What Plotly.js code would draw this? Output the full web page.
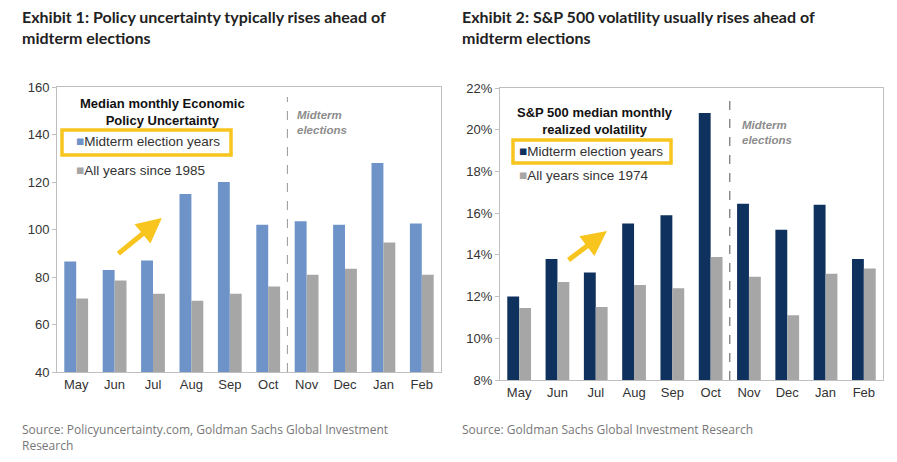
<!DOCTYPE html>
<html><head><meta charset="utf-8">
<script src="https://cdn.plot.ly/plotly-3.0.1.min.js"></script>
<style>body{margin:0;background:#fff}#c{width:897px;height:462px}</style>
</head><body><div id="c"></div>
<script>
const months = ["May","Jun","Jul","Aug","Sep","Oct","Nov","Dec","Jan","Feb"];
const epuMidterm = [86.5, 83, 87, 115, 120, 102, 103.5, 102, 128, 102.5];
const epuAll = [71, 78.5, 73, 70, 73, 76, 81, 83.5, 94.5, 81];
const volMidterm = [12.0, 13.8, 13.15, 15.5, 15.9, 20.8, 16.45, 15.2, 16.4, 13.8];
const volAll = [11.45, 12.7, 11.5, 12.55, 12.4, 13.9, 12.95, 11.1, 13.1, 13.35];

const W = 897, H = 462;
const px = x => x / W, py = y => 1 - y / H;
const idx = months.map((_, i) => i);
const BLUE = "#6d93c9", GREY = "#a6a6a6", NAVY = "#0f315e", GOLD = "#f7c51e";
const tf = { family: "Liberation Sans, Arial", size: 13, color: "#333" };

const data = [
  { type: "bar", x: idx, y: epuMidterm, marker: { color: BLUE }, xaxis: "x", yaxis: "y" },
  { type: "bar", x: idx, y: epuAll, marker: { color: GREY }, xaxis: "x", yaxis: "y" },
  { type: "bar", x: idx, y: volMidterm, marker: { color: NAVY }, xaxis: "x2", yaxis: "y2" },
  { type: "bar", x: idx, y: volAll, marker: { color: GREY }, xaxis: "x2", yaxis: "y2" },
];

function xax(dom, anchor) {
  return { domain: dom, anchor, range: [-0.5, 9.5], tickvals: idx, ticktext: months,
    showline: true, mirror: true, linecolor: "#bfbfbf", tickfont: tf, ticks: "",
    showgrid: false, zeroline: false, fixedrange: true };
}
function yax(dom, anchor, range, dtick, suffix) {
  return { domain: dom, anchor, range, dtick, ticksuffix: suffix, tickfont: tf,
    showline: true, mirror: true, linecolor: "#bfbfbf", ticks: "outside", ticklen: 4,
    tickcolor: "#bfbfbf", showgrid: false, zeroline: false };
}

const titleFont = { family: "Lato, Open Sans", size: 16, color: "#222" };
const srcFont = { family: "Open Sans", size: 12, color: "#777" };
const headFont = { family: "Liberation Sans, Arial", size: 13, color: "#111" };
const legFont = { family: "Liberation Sans, Arial", size: 13.5, color: "#333" };
const midFont = { family: "Liberation Sans, Arial", size: 11.5, color: "#8c8c8c" };

function ann(x, y, text, font, xanchor = "left") {
  return { xref: "paper", yref: "paper", x: px(x), y: py(y), text, font, xanchor,
    yanchor: "middle", showarrow: false, align: xanchor === "center" ? "center" : "left" };
}

const layout = {
  width: W, height: H, margin: { l: 0, r: 0, t: 0, b: 0 },
  paper_bgcolor: "#fff", plot_bgcolor: "#fff", showlegend: false,
  barmode: "group", bargap: 0.38, bargroupgap: 0,
  xaxis: xax([px(57), px(441)], "y"),
  yaxis: yax([py(372), py(87)], "x", [40, 160], 20, ""),
  xaxis2: xax([px(500), px(883)], "y2"),
  yaxis2: yax([py(380), py(88)], "x2", [8, 22], 2, "%"),
  shapes: [
    { type: "line", xref: "x", yref: "paper", x0: 5.5, x1: 5.5, y0: py(372), y1: py(97),
      line: { color: "#999", width: 1, dash: "dash" } },
    { type: "line", xref: "x2", yref: "paper", x0: 5.5, x1: 5.5, y0: py(380), y1: py(97),
      line: { color: "#555", width: 1, dash: "dash" } },
    { type: "rect", xref: "paper", yref: "paper", x0: px(62), x1: px(231), y0: py(155), y1: py(130),
      line: { color: GOLD, width: 3.5 } },
    { type: "rect", xref: "paper", yref: "paper", x0: px(513), x1: px(671), y0: py(163), y1: py(140),
      line: { color: GOLD, width: 3.5 } },
  ],
  annotations: [
    { xref: "paper", yref: "paper", x: px(20), y: py(5), xanchor: "left", yanchor: "top", align: "left",
      showarrow: false, font: titleFont,
      text: "<b>Exhibit 1: Policy uncertainty typically rises ahead of<br>midterm elections</b>" },
    { xref: "paper", yref: "paper", x: px(460), y: py(5), xanchor: "left", yanchor: "top", align: "left",
      showarrow: false, font: titleFont,
      text: "<b>Exhibit 2: S&P 500 volatility usually rises ahead of<br>midterm elections</b>" },
    { xref: "paper", yref: "paper", x: px(20), y: py(419), xanchor: "left", yanchor: "top", align: "left",
      showarrow: false, font: srcFont,
      text: "Source: Policyuncertainty.com, Goldman Sachs Global Investment<br>Research" },
    { xref: "paper", yref: "paper", x: px(460), y: py(419), xanchor: "left", yanchor: "top", align: "left",
      showarrow: false, font: srcFont, text: "Source: Goldman Sachs Global Investment Research" },
    ann(162, 112, "<b>Median monthly Economic<br>Policy Uncertainty</b>", headFont, "center"),
    ann(74, 142, `<span style="color:${BLUE}">■</span>Midterm election years`, legFont),
    ann(74, 170, `<span style="color:${GREY}">■</span>All years since 1985`, legFont),
    ann(295, 122, "<b><i>Midterm<br>elections</i></b>", midFont),
    ann(595, 121, "<b>S&P 500 median monthly<br>realized volatility</b>", headFont, "center"),
    ann(517, 151, `<span style="color:${NAVY}">■</span>Midterm election years`, legFont),
    ann(517, 175, `<span style="color:${GREY}">■</span>All years since 1974`, legFont),
    ann(740, 132, "<b><i>Midterm<br>elections</i></b>", midFont),
    { xref: "x", yref: "y", axref: "x", ayref: "y", x: 2.23, y: 104.8, ax: 1.06, ay: 89.3,
      showarrow: true, arrowhead: 2, arrowsize: 1, arrowwidth: 5, arrowcolor: GOLD, text: "" },
    { xref: "x2", yref: "y2", axref: "x2", ayref: "y2", x: 2.29, y: 15.14, ax: 1.25, ay: 13.7,
      showarrow: true, arrowhead: 2, arrowsize: 1, arrowwidth: 5, arrowcolor: GOLD, text: "" },
  ],
};

Plotly.newPlot("c", data, layout, { staticPlot: true });
</script></body></html>
